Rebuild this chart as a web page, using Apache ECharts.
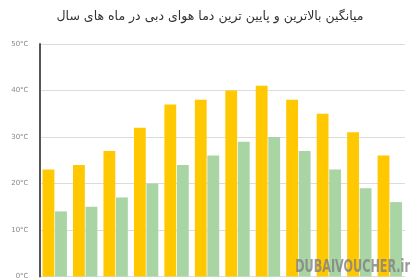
<!DOCTYPE html>
<html><head><meta charset="utf-8">
<script src="https://cdn.jsdelivr.net/npm/echarts@6/dist/echarts.min.js"></script>
<style>html,body{margin:0;padding:0;background:#fff}#c{width:420px;height:280px}</style>
</head><body><div id="c"></div>
<script>
const titleText = 'میانگین بالاترین و پایین ترین دما هوای دبی در ماه های سال';
const months = ['1','2','3','4','5','6','7','8','9','10','11','12'];
const highTemps = [23, 24, 27, 32, 37, 38, 40, 41, 38, 35, 31, 26];
const lowTemps = [14, 15, 17, 20, 24, 26, 29, 30, 27, 23, 19, 16];
const yTicks = {min: 0, max: 50, interval: 10, suffix: '°C'};
const watermark = 'DUBAIVOUCHER.ir';

const chart = echarts.init(document.getElementById('c'), null, {renderer: 'canvas'});
chart.setOption({
  animation: false,
  title: {
    text: titleText, left: 'center', top: 5,
    textStyle: {fontFamily: 'DejaVu Sans', fontSize: 12.5, fontWeight: 'normal', color: '#333'}
  },
  grid: {left: 39.5, right: 15, top: 44, bottom: 0, containLabel: false},
  xAxis: {
    type: 'category', data: months,
    axisLine: {show: false}, axisTick: {show: false}, axisLabel: {show: false}
  },
  yAxis: {
    type: 'value', min: yTicks.min, max: yTicks.max, interval: yTicks.interval,
    axisLine: {show: true, lineStyle: {color: '#555', width: 2}},
    axisTick: {show: false},
    axisLabel: {formatter: v => v + yTicks.suffix, fontSize: 7, color: '#888', margin: 11, fontFamily: 'DejaVu Sans', padding: [3, 0, 0, 0]},
    splitLine: {lineStyle: {color: '#dcdcdc', width: 1}}
  },
  series: [
    {type: 'bar', data: highTemps, itemStyle: {color: '#FFC800'}, barCategoryGap: '20%', barGap: '6%'},
    {type: 'bar', data: lowTemps, itemStyle: {color: '#A9D4A3'}}
  ],
  graphic: [{
    type: 'text', x: 410, y: 259, scaleX: 0.66, originX: 0, originY: 0, z: 100,
    style: {text: watermark, fontFamily: 'DejaVu Sans', fontWeight: 'bold', fontSize: 17, fill: 'rgba(128,128,128,0.8)', textAlign: 'right', textVerticalAlign: 'top'}
  }]
});
</script></body></html>
